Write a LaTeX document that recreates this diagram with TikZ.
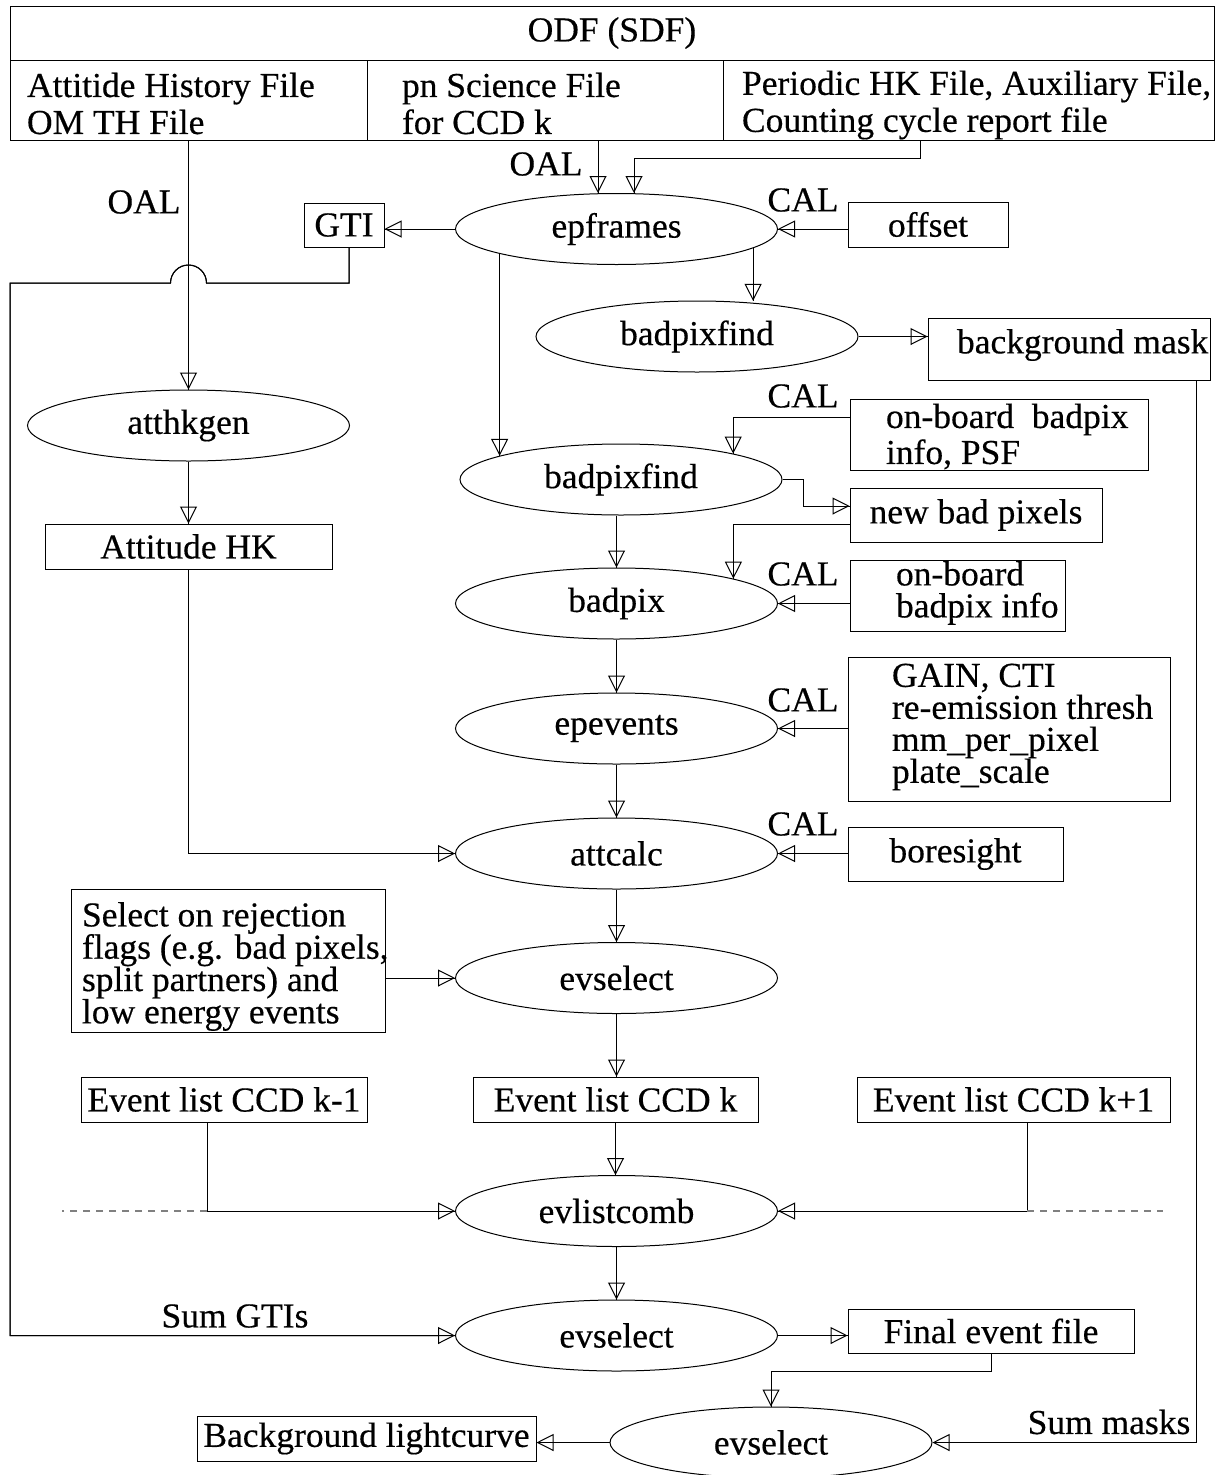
\documentclass[tikz,border=0pt]{standalone}
\usepackage{fontspec}
\setmainfont{Liberation Serif}[FakeStretch=1.014, FakeBold=0.4]
\usetikzlibrary{arrows.meta,shapes.geometric}

\tikzset{
  proc/.style={draw, ellipse, minimum width=322pt, minimum height=71pt, inner sep=0pt},
  filebox/.style={draw, rectangle, inner sep=0pt},
  boxtext/.style={anchor=west, align=left, inner sep=0pt},
  flow/.style={-{Triangle[open, length=17pt, width=17pt]}, postaction={draw, -}},
  tag/.style={inner sep=0pt},
  sidelink/.style={dash pattern=on 7pt off 6pt, line width=1.3pt, gray}
}

\begin{document}
\begin{tikzpicture}[x=1pt, y=-1pt, line width=1pt,
    font=\fontsize{35}{37}\selectfont]
  \useasboundingbox (0,0) rectangle (1218,1475);

  % ---------- ODF (SDF) header ----------
  \node[filebox, minimum width=1204pt, minimum height=54pt] (odf) at (612,33) {ODF (SDF)};
  \node[filebox, minimum width=357pt, minimum height=80pt] (attf) at (188.5,100) {};
  \node[filebox, minimum width=356pt, minimum height=80pt] (scif) at (545,100) {};
  \node[filebox, minimum width=491pt, minimum height=80pt] (hkf) at (968.5,100) {};
  \node[boxtext, yshift=-3.5pt] (attftext) at ([xshift=17pt]attf.west) {Attitide History File\\OM TH File};
  \node[boxtext, yshift=-3.5pt] (sciftext) at ([xshift=35pt]scif.west) {pn Science File\\for CCD k};
  \node[boxtext, yshift=-5pt] (hkftext) at ([xshift=19pt]hkf.west) {Periodic HK File, Auxiliary File,\\Counting cycle report file};

  % ---------- Processing steps ----------
  \node[proc] (epframes) at (616.5,229) {epframes};
  \node[proc] (badpixfindA) at (697,336.5) {badpixfind};
  \node[proc] (atthkgen) at (188.5,425.5) {atthkgen};
  \node[proc] (badpixfindB) at (621,479.5) {badpixfind};
  \node[proc] (badpix) at (616.5,603.5) {badpix};
  \node[proc] (epevents) at (616.5,728.5) {epevents};
  \node[proc] (attcalc) at (616.5,853.5) {attcalc};
  \node[proc] (evselA) at (616.5,978) {evselect};
  \node[proc] (evlistcomb) at (616.5,1211) {evlistcomb};
  \node[proc] (evselB) at (616.5,1335.5) {evselect};
  \node[proc] (evselC) at (771,1442.5) {evselect};

  % ---------- Files and calibration data ----------
  \node[filebox, minimum width=80pt, minimum height=44pt] (gti) at (344,225) {GTI};
  \node[filebox, minimum width=160pt, minimum height=45pt] (offset) at (928,224.5) {offset};
  \node[filebox, minimum width=282pt, minimum height=62pt] (bgmask) at (1069,349) {};
  \node[boxtext, yshift=4pt] (bgmasktext) at ([xshift=29pt]bgmask.west) {background mask};
  \node[filebox, minimum width=298pt, minimum height=71pt] (obA) at (999,434.5) {};
  \node[boxtext, yshift=-2pt, font=\fontsize{35}{36}\selectfont] (obAtext) at ([xshift=36pt]obA.west) {on-board\ \ badpix\\info, PSF};
  \node[filebox, minimum width=252pt, minimum height=54pt] (newbad) at (976,515) {new bad pixels};
  \node[filebox, minimum width=215pt, minimum height=71pt] (obB) at (957.5,595.5) {};
  \node[boxtext, yshift=2.5pt, font=\fontsize{35}{32}\selectfont] (obBtext) at ([xshift=46pt]obB.west) {on-board\\badpix info};
  \node[filebox, minimum width=287pt, minimum height=45pt] (atthk) at (188.5,546.5) {Attitude HK};
  \node[filebox, minimum width=322pt, minimum height=144pt] (gain) at (1009,729) {};
  \node[boxtext, yshift=2pt, font=\fontsize{35}{32}\selectfont] (gaintext) at ([xshift=44pt]gain.west)
    {GAIN, CTI\\re-emission thresh\\mm\_per\_pixel\\plate\_scale};
  \node[filebox, minimum width=215pt, minimum height=54pt] (boresight) at (955.5,854) {boresight};
  \node[filebox, minimum width=314pt, minimum height=143pt] (select) at (228,960.5) {};
  \node[boxtext, yshift=-6pt, font=\fontsize{35}{32.3}\selectfont] (selecttext) at ([xshift=11pt]select.west)
    {Select on rejection\\flags (e.g. bad pixels,\\split partners) and\\low energy events};
  \node[filebox, minimum width=286pt, minimum height=45pt] (evkm) at (224,1099.5) {Event list CCD k-1};
  \node[filebox, minimum width=285pt, minimum height=45pt] (evk) at (615.5,1099.5) {Event list CCD k};
  \node[filebox, minimum width=313pt, minimum height=45pt] (evkp) at (1013.5,1099.5) {Event list CCD k+1};
  \node[filebox, minimum width=286pt, minimum height=44pt] (final) at (991,1331) {Final event file};
  \node[filebox, minimum width=339pt, minimum height=45pt] (bglc) at (366.5,1438.5) {Background lightcurve};

  % ---------- Link labels ----------
  \node[tag] (oalA) at (144,202) {OAL};
  \node[tag] (oalB) at (546,164) {OAL};
  \foreach \y [count=\i] in {200,396,574,700,824}
    \node[tag] (cal\i) at (803,\y) {CAL};
  \node[tag] (sumgti) at (235,1316) {Sum GTIs};
  \node[tag] (summask) at (1109,1422) {Sum masks};

  % ---------- Connectors ----------
  \draw[flow] (atthkgen.north |- attf.south) -- (atthkgen.north);
  \draw[flow] ([xshift=-18.5pt]epframes.north |- scif.south) -- ([xshift=-18.5pt]epframes.north);
  \draw[flow] ([xshift=-48pt]hkf.south) -- ++(0,18) -| ([xshift=17.5pt]epframes.north);
  \draw[flow] (offset.west |- epframes.east) -- (epframes.east);
  \draw[flow] (epframes.west) -- (epframes.west -| gti.east);
  \draw[flow] (epframes.-8.44) -- (epframes.-8.44 |- badpixfindA.57.7);
  \draw[flow] (epframes.-168.1) -- (epframes.-168.1 |- badpixfindB.169.05);
  \draw[flow] (badpixfindA.east) -- (badpixfindA.east -| bgmask.west);
  \draw[flow] ([yshift=17.5pt]obA.west) -| (badpixfindB.13.04);
  \draw[flow] (badpixfindB.east) -- ++(21,0) |- ([yshift=9pt]newbad.west);
  \draw[flow] ([yshift=-9pt]newbad.west) -| (badpix.12.07);
  \draw[flow] (badpix.north |- badpixfindB.south) -- (badpix.north);
  \draw[flow] (obB.west |- badpix.east) -- (badpix.east);
  \draw[flow] (gain.west |- epevents.east) -- (epevents.east);
  \draw[flow] (boresight.west |- attcalc.east) -- (attcalc.east);
  \foreach \a/\b in {badpix/epevents, epevents/attcalc, attcalc/evselA,
                     evselA/evk, evk/evlistcomb, evlistcomb/evselB}
    \draw[flow] (\a.south) -- (\a.south |- \b.north);
  \draw[flow] (atthkgen.south) -- (atthk.north);
  \draw[flow] (atthk.south) |- (attcalc.west);
  \draw[flow] (select.east |- evselA.west) -- (evselA.west);

  % neighbouring CCDs
  \draw[flow] ([xshift=-17pt]evkm.south) |- (evlistcomb.west);
  \draw[flow] ([xshift=13.5pt]evkp.south) |- (evlistcomb.east);
  \draw[sidelink] ([xshift=-17pt]evkm.south |- evlistcomb.west) -- ++(-145,0);
  \draw[sidelink] ([xshift=13.5pt]evkp.south |- evlistcomb.east) -- ++(136,0);

  % GTI line, hopping over the attitude line
  \coordinate (hop) at (188.5,283);
  \coordinate (gtibend) at (10,283);
  \draw[flow] ([xshift=5pt]gti.south) |- ([xshift=18pt]hop)
    arc[start angle=0, end angle=180, radius=18pt] -- (gtibend) |- (evselB.west);

  % final steps
  \draw[flow] (evselB.east) -- (evselB.east -| final.west);
  \draw[flow] (final.south) -- ++(0,18) -| (evselC.north);
  \draw[flow] ([xshift=127pt]bgmask.south) |- (evselC.east);
  \draw[flow] (evselC.west) -- (evselC.west -| bglc.east);
\end{tikzpicture}
\end{document}
